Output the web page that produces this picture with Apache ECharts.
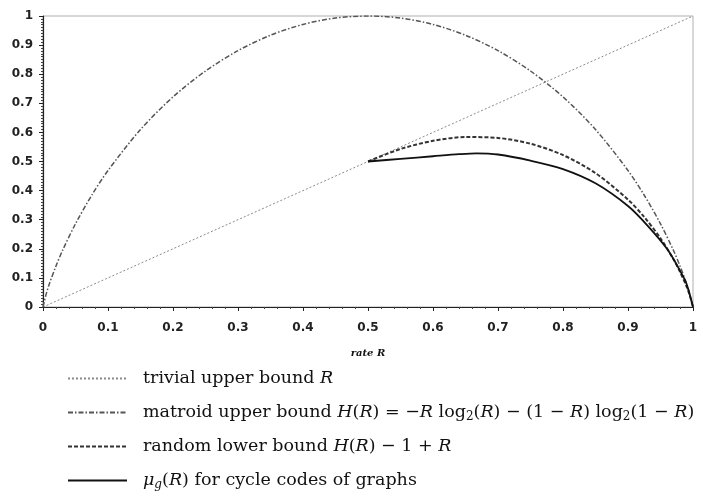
<!DOCTYPE html>
<html>
<head>
<meta charset="utf-8">
<script src="https://cdn.jsdelivr.net/npm/echarts@6/dist/echarts.min.js"></script>
<style>
html,body{margin:0;padding:0;background:#fff;}
#chart{width:707px;height:494px;}
</style>
</head>
<body>
<div id="chart"></div>
<script>
// Tick labels
var xTicks = ['0','0.1','0.2','0.3','0.4','0.5','0.6','0.7','0.8','0.9','1'];
var yTicks = ['0','0.1','0.2','0.3','0.4','0.5','0.6','0.7','0.8','0.9','1'];

// Series names (legend entries)
var seriesNames = [
  'trivial upper bound R',
  'matroid upper bound H(R)',
  'random lower bound H(R)-1+R',
  'mu_g(R) for cycle codes of graphs'
];

// trivial upper bound R
var trivialR = [0, 1];
var trivialV = [0, 1];

// matroid upper bound H(R)
var matroidR = [0, 0.005, 0.01, 0.02, 0.03, 0.05, 0.075, 0.1, 0.15, 0.2, 0.25, 0.3, 0.35, 0.4, 0.45, 0.5,
                0.55, 0.6, 0.65, 0.7, 0.75, 0.8, 0.85, 0.9, 0.925, 0.95, 0.97, 0.98, 0.99, 0.995, 1];
var matroidV = [0, 0.045, 0.081, 0.141, 0.194, 0.286, 0.384, 0.469, 0.61, 0.722, 0.811, 0.881, 0.934, 0.971, 0.993, 1,
                0.993, 0.971, 0.934, 0.881, 0.811, 0.722, 0.61, 0.469, 0.384, 0.286, 0.194, 0.141, 0.081, 0.045, 0];

// random lower bound H(R) - 1 + R
var randomR = [0.5, 0.55, 0.6, 0.65, 0.7, 0.75, 0.8, 0.85, 0.9, 0.925, 0.95, 0.97, 0.98, 0.99, 0.995, 1];
var randomV = [0.5, 0.543, 0.571, 0.584, 0.581, 0.561, 0.522, 0.46, 0.369, 0.309, 0.236, 0.164, 0.121, 0.071, 0.04, 0];

// mu_g(R) for cycle codes of graphs
var muR = [0.5, 0.55, 0.6, 0.64, 0.667, 0.7, 0.75, 0.8, 0.85, 0.9, 0.93, 0.96, 0.98, 0.99, 1];
var muV = [0.5, 0.509, 0.518, 0.525, 0.528, 0.524, 0.503, 0.474, 0.425, 0.347, 0.28, 0.2, 0.125, 0.08, 0];

function pairs(xs, ys) {
  return xs.map(function (x, i) { return [x, ys[i]]; });
}

var legendRich = {};
legendRich[seriesNames[0]] = 'trivial upper bound {i|R}';
legendRich[seriesNames[1]] = 'matroid upper bound {i|H}({i|R}) = −{i|R} log{s|2}({i|R}) − (1 − {i|R}) log{s|2}(1 − {i|R})';
legendRich[seriesNames[2]] = 'random lower bound {i|H}({i|R}) − 1 + {i|R}';
legendRich[seriesNames[3]] = '{i|μ}{si|g}({i|R}) for cycle codes of graphs';

var chart = echarts.init(document.getElementById('chart'), null, {renderer: 'canvas'});

var axisLabelStyle = {
  fontFamily: 'DejaVu Sans',
  fontWeight: 'bold',
  fontSize: 12,
  color: '#222'
};

chart.setOption({
  backgroundColor: '#fff',
  animation: false,
  grid: {
    left: 43, right: 14, top: 16, bottom: 187,
    show: true, borderColor: '#b0b0b0', borderWidth: 1,
    containLabel: false, outerBoundsMode: 'none'
  },
  legend: {
    data: seriesNames,
    orient: 'vertical',
    left: 67,
    top: 368,
    padding: 0,
    itemWidth: 59,
    itemHeight: 14,
    itemGap: 13,
    selectedMode: false,
    itemStyle: {color: 'rgba(0,0,0,0)', borderWidth: 0, opacity: 0},
    formatter: function (name) { return legendRich[name]; },
    textStyle: {
      fontFamily: 'DejaVu Serif',
      fontSize: 17.5,
      color: '#111',
      lineHeight: 21,
      padding: [0, 0, 0, 11],
      rich: {
        i: {fontFamily: 'DejaVu Serif', fontStyle: 'italic', fontSize: 17.5, color: '#111', lineHeight: 21},
        s: {fontFamily: 'DejaVu Serif', fontSize: 12, color: '#111', verticalAlign: 'bottom', lineHeight: 21},
        si: {fontFamily: 'DejaVu Serif', fontStyle: 'italic', fontSize: 12, color: '#111', verticalAlign: 'bottom', lineHeight: 21}
      }
    }
  },
  xAxis: {
    type: 'value',
    min: 0, max: 1, interval: 0.1,
    name: 'rate R',
    nameLocation: 'middle',
    nameGap: 41,
    nameTextStyle: {fontFamily: 'DejaVu Serif', fontStyle: 'italic', fontWeight: 'bold', fontSize: 10, color: '#111'},
    axisLine: {show: true, onZero: false, lineStyle: {color: '#222', width: 1}},
    axisTick: {show: true, length: 4, lineStyle: {color: '#222'}},
    minorTick: {show: true, splitNumber: 5, length: 2, lineStyle: {color: '#444'}},
    splitLine: {show: false},
    minorSplitLine: {show: false},
    axisLabel: Object.assign({margin: 15, formatter: function (v) { return xTicks[Math.round(v * 10)]; }}, axisLabelStyle)
  },
  yAxis: {
    type: 'value',
    min: 0, max: 1, interval: 0.1,
    axisLine: {show: true, onZero: false, lineStyle: {color: '#222', width: 1.2}},
    axisTick: {show: true, length: 4, lineStyle: {color: '#222'}},
    minorTick: {show: true, splitNumber: 10, length: 2, lineStyle: {color: '#444'}},
    splitLine: {show: false},
    minorSplitLine: {show: false},
    axisLabel: Object.assign({margin: 10, formatter: function (v) { return yTicks[Math.round(v * 10)]; }}, axisLabelStyle)
  },
  series: [
    {
      name: seriesNames[0], type: 'line', symbol: 'none',
      data: pairs(trivialR, trivialV),
      lineStyle: {color: '#8a8a8a', width: 1, type: [2, 2]},
      itemStyle: {color: '#8a8a8a'}
    },
    {
      name: seriesNames[1], type: 'line', symbol: 'none', smooth: 0.3,
      data: pairs(matroidR, matroidV),
      lineStyle: {color: '#555', width: 1.5, type: [5, 2, 1.5, 2]},
      itemStyle: {color: '#555'}
    },
    {
      name: seriesNames[2], type: 'line', symbol: 'none', smooth: 0.3,
      data: pairs(randomR, randomV),
      lineStyle: {color: '#333', width: 2, type: [4, 2]},
      itemStyle: {color: '#333'}
    },
    {
      name: seriesNames[3], type: 'line', symbol: 'none', smooth: 0.3,
      data: pairs(muR, muV),
      lineStyle: {color: '#111', width: 1.8, type: 'solid'},
      itemStyle: {color: '#111'}
    }
  ]
});
</script>
</body>
</html>
